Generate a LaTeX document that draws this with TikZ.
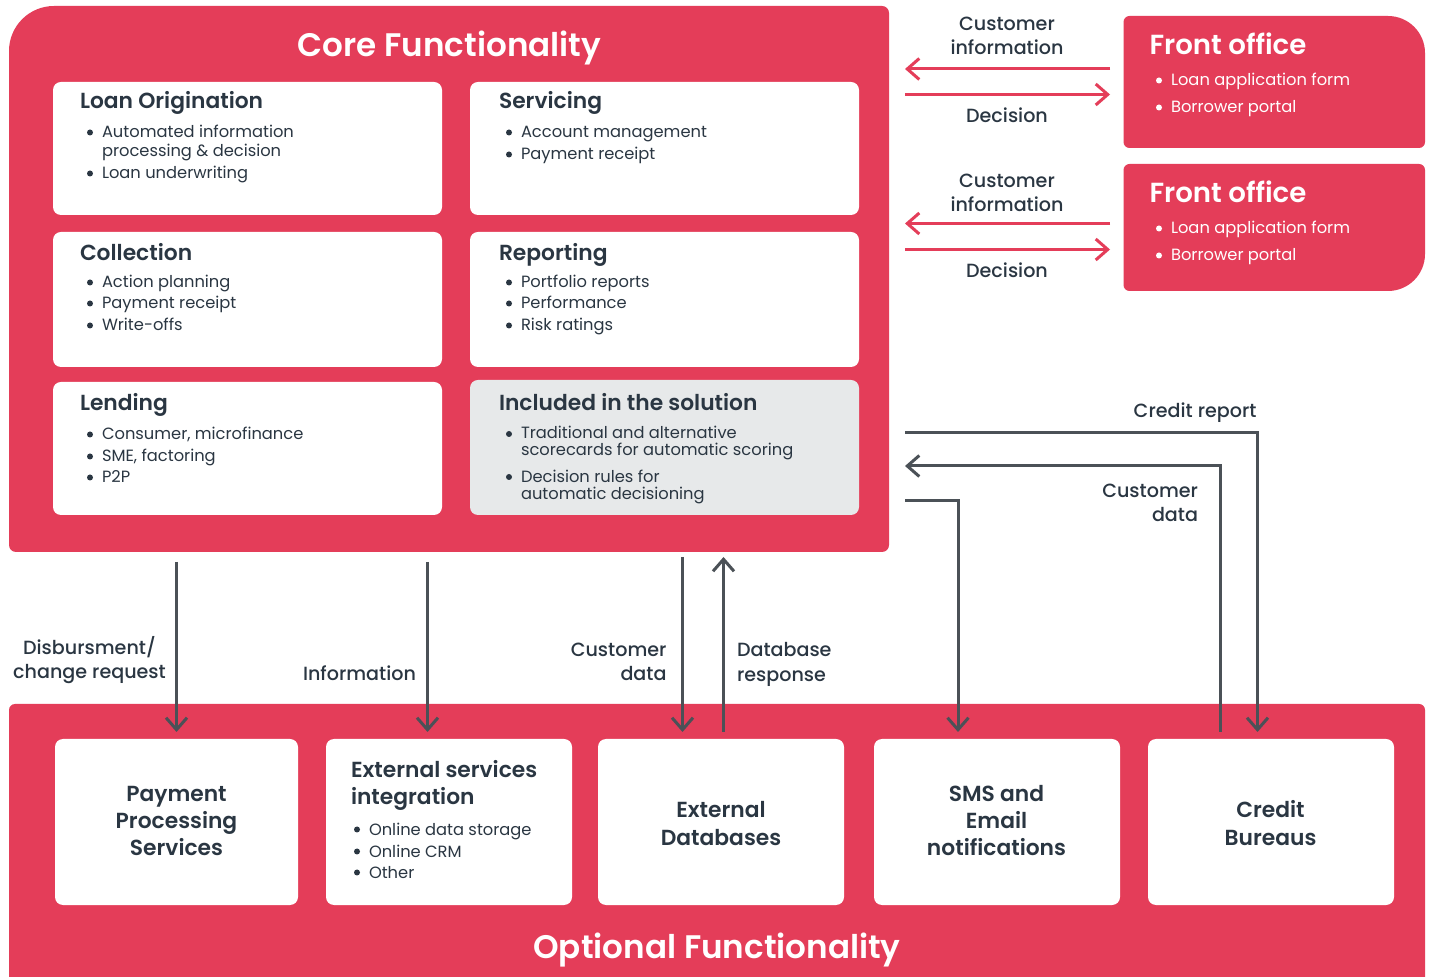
\documentclass[tikz,border=0pt]{standalone}
\usepackage{fontspec}
\setmainfont{Poppins}
\newfontfamily\pmed{Poppins}[UprightFont=* Medium]
\newfontfamily\psemi{Poppins}[UprightFont=* SemiBold]
\usetikzlibrary{arrows.meta}
\definecolor{brand}{HTML}{E43D59}
\definecolor{ink}{HTML}{2A3642}
\definecolor{wire}{HTML}{4B5157}
\definecolor{solution}{HTML}{E7E9EA}
\tikzset{
  x=.5pt,y=-.5pt,
  chev/.style={-{Straight Barb[length=6pt,width=10.5pt,line width=1.5pt]}},
  wireline/.style={draw=wire,line width=1.5pt,chev},
  redline/.style={draw=brand,line width=1.5pt,chev},
  panel/.style={inner sep=0pt,outer sep=0pt,rounded corners=4pt,minimum width=0pt},
  txt/.style={inner sep=0pt,outer sep=0pt,text=ink,yshift=-.5pt},
  title/.style={txt,text=white,anchor=base,font=\psemi\fontsize{16.3}{20}\selectfont},
  head/.style={txt,anchor=base west,font=\psemi\fontsize{10.9}{13.5}\selectfont},
  headw/.style={txt,text=white,anchor=base west,font=\psemi\fontsize{13.8}{17}\selectfont},
  item/.style={txt,anchor=base west,align=left,font=\fontsize{8.15}{9.5}\selectfont},
  itemtight/.style={item,font=\fontsize{8.15}{8.5}\selectfont},
  itemw/.style={item,text=white},
  lab/.style={txt,font=\pmed\fontsize{9.56}{12.3}\selectfont,anchor=base},
  labr/.style={lab,anchor=base east,align=right},
  labl/.style={lab,anchor=base west,align=left},
  labc/.style={lab,align=center},
  big/.style={txt,anchor=base,align=center,font=\psemi\fontsize{10.9}{13.4}\selectfont},
  bigtwo/.style={big,font=\psemi\fontsize{10.9}{14}\selectfont},
}
% \bx{name}{x1}{y1}{x2}{y2}{fill}
\newcommand{\bx}[6]{%
  \pgfmathsetmacro{\bw}{(#4-#2)*.5}\pgfmathsetmacro{\bh}{(#5-#3)*.5}%
  \node[panel,fill=#6,rectangle,minimum width=\bw pt,minimum height=\bh pt,anchor=north west] (#1) at (#2,#3) {};}
% \itm{name}{x}{y of last baseline}{bullet colour}{style}{text}{y of bullet}
\newcommand{\itmb}[7]{%
  \node[#5] (#1) at (#2,#3) {#6};%
  \fill[#4] (#2-12,#7) circle (1.5pt);}
\newcommand{\itm}[6]{\itmb{#1}{#2}{#3}{#4}{#5}{#6}{#3-4.5}}
\begin{document}
\begin{tikzpicture}
\useasboundingbox (0,0) rectangle (1430,977);
\fill[white] (0,0) rectangle (1430,977);
% big panels
\fill[brand] (9,51) arc[start angle=180,end angle=90,radius=22.5pt] -- (882,6) arc[start angle=90,end angle=0,radius=3.5pt] -- (889,545) arc[start angle=0,end angle=-90,radius=3.5pt] -- (16,552) arc[start angle=-90,end angle=-180,radius=3.5pt] -- cycle;
\fill[brand] (9,977) -- (9,710) arc[start angle=180,end angle=90,radius=3pt] -- (1419,704) arc[start angle=90,end angle=0,radius=3pt] -- (1425,977) -- cycle;
\fill[brand] (1123.5,22) arc[start angle=180,end angle=90,radius=3pt] -- (1388,16) arc[start angle=90,end angle=0,radius=18.5pt] -- (1425,142) arc[start angle=0,end angle=-90,radius=3pt] -- (1129.5,148) arc[start angle=-90,end angle=-180,radius=3pt] -- cycle;
\fill[brand] (1123.5,170) arc[start angle=180,end angle=90,radius=3pt] -- (1419,164) arc[start angle=90,end angle=0,radius=3pt] -- (1425,254) arc[start angle=0,end angle=-90,radius=18.5pt] -- (1129.5,291) arc[start angle=-90,end angle=-180,radius=3pt] -- cycle;
\node[title] (core) at (449.5,56) {Core Functionality};
\node[title] (opt) at (717,957) {Optional Functionality};
% core boxes
\bx{lo}{53}{82}{442}{215}{white}
\bx{serv}{470}{82}{859}{215}{white}
\bx{coll}{53}{232}{442}{367}{white}
\bx{rep}{470}{232}{859}{367}{white}
\bx{lend}{53}{382}{442}{515}{white}
\bx{incl}{470}{380}{859}{515}{solution}
\node[head] (loh) at (80,108) {Loan Origination};
\itmb{lo1}{102}{155.5}{ink}{item}{Automated information\\processing \& decision}{132.5}
\itm{lo2}{102}{178}{ink}{item}{Loan underwriting}
\node[head] (seh) at (499,108) {Servicing};
\itm{se1}{521}{137}{ink}{item}{Account management}
\itm{se2}{521}{159}{ink}{item}{Payment receipt}
\node[head] (coh) at (80,260) {Collection};
\itm{co1}{102}{287}{ink}{item}{Action planning}
\itm{co2}{102}{308}{ink}{item}{Payment receipt}
\itm{co3}{102}{330}{ink}{item}{Write-offs}
\node[head] (reh) at (499,260) {Reporting};
\itm{re1}{521}{287}{ink}{item}{Portfolio reports}
\itm{re2}{521}{308}{ink}{item}{Performance}
\itm{re3}{521}{330}{ink}{item}{Risk ratings}
\node[head] (leh) at (80,410) {Lending};
\itm{le1}{102}{439}{ink}{item}{Consumer, microfinance}
\itm{le2}{102}{461}{ink}{item}{SME, factoring}
\itm{le3}{102}{482}{ink}{item}{P2P}
\node[head] (inh) at (499,410) {Included in the solution};
\itmb{in1}{521}{455}{ink}{itemtight}{Traditional and alternative\\scorecards for automatic scoring}{434}
\itmb{in2}{521}{499}{ink}{itemtight}{Decision rules for\\automatic decisioning}{477}
% front offices
\node[headw] (fo1) at (1149.5,54) {Front office};
\itm{fo1a}{1171}{85}{white}{itemw}{Loan application form}
\itm{fo1b}{1171}{112}{white}{itemw}{Borrower portal}
\node[headw] (fo2) at (1149.5,202) {Front office};
\itm{fo2a}{1171}{233}{white}{itemw}{Loan application form}
\itm{fo2b}{1171}{260}{white}{itemw}{Borrower portal}
% red connectors
\coordinate (corer1) at (905,69); \coordinate (fo1r1) at (1110,69);
\coordinate (corer2) at (905,94.500); \coordinate (fo1r2) at (1110,94.500);
\coordinate (corer3) at (905,223.500); \coordinate (fo2r1) at (1110,223.500);
\coordinate (corer4) at (905,249.500); \coordinate (fo2r2) at (1110,249.500);
\draw[redline] (fo1r1) -- (corer1);
\draw[redline] (corer2) -- (fo1r2);
\draw[redline] (fo2r1) -- (corer3);
\draw[redline] (corer4) -- (fo2r2);
\node[labc] (l1) at (1007,54) {Customer\\information};
\node[labc] (l2) at (1007,122) {Decision};
\node[labc] (l3) at (1007,211) {Customer\\information};
\node[labc] (l4) at (1007,277) {Decision};
% bottom boxes
\bx{pay}{55}{739}{298}{905}{white}
\bx{ext}{326}{739}{572}{905}{white}
\bx{edb}{598}{739}{844}{905}{white}
\bx{sms}{874}{739}{1120}{905}{white}
\bx{cb}{1148}{739}{1394}{905}{white}
\node[big] (payt) at (176.500,854.5) {Payment\\Processing\\Services};
\node[head,align=left] (extt) at (351,804) {External services\\integration};
\itm{ex1}{369}{834}{ink}{item}{Online data storage}
\itm{ex2}{369}{856}{ink}{item}{Online CRM}
\itm{ex3}{369}{877}{ink}{item}{Other}
\node[bigtwo] (edbt) at (721,845) {External\\Databases};
\node[big] (smst) at (996.500,854.5) {SMS and\\Email\\notifications};
\node[bigtwo] (cbt) at (1270.5,845) {Credit\\Bureaus};
% grey connectors
\coordinate (a1) at (176.500,562); \coordinate (a1e) at (176.500,732);
\coordinate (a2) at (427.500,562); \coordinate (a2e) at (427.500,732);
\coordinate (a3) at (682.500,557); \coordinate (a3e) at (682.500,732);
\coordinate (a4) at (723.500,732); \coordinate (a4e) at (723.500,557);
\coordinate (c1) at (905,432.500); \coordinate (c1m) at (1257.500,432.500); \coordinate (c1e) at (1257.500,732);
\coordinate (c2) at (1220.500,732); \coordinate (c2m) at (1220.500,466); \coordinate (c2e) at (905,466);
\coordinate (c3) at (905,500.500); \coordinate (c3m) at (958,500.500); \coordinate (c3e) at (958,732);
\draw[wireline] (a1) -- (a1e);
\draw[wireline] (a2) -- (a2e);
\draw[wireline] (a3) -- (a3e);
\draw[wireline] (a4) -- (a4e);
\draw[wireline] (c1) -- (c1m) -- (c1e);
\draw[wireline] (c2) -- (c2m) -- (c2e);
\draw[wireline] (c3) -- (c3m) -- (c3e);
\node[labc] (t1) at (89.5,678) {Disbursment/\\change request};
\node[labl] (t2) at (303,680) {Information};
\node[labr] (t3) at (666.5,680) {Customer\\data};
\node[labl] (t4) at (737,680.5) {Database\\response};
\node[labr] (t5) at (1256.5,417) {Credit report};
\node[labr] (t6) at (1198,521) {Customer\\data};
\end{tikzpicture}
\end{document}
